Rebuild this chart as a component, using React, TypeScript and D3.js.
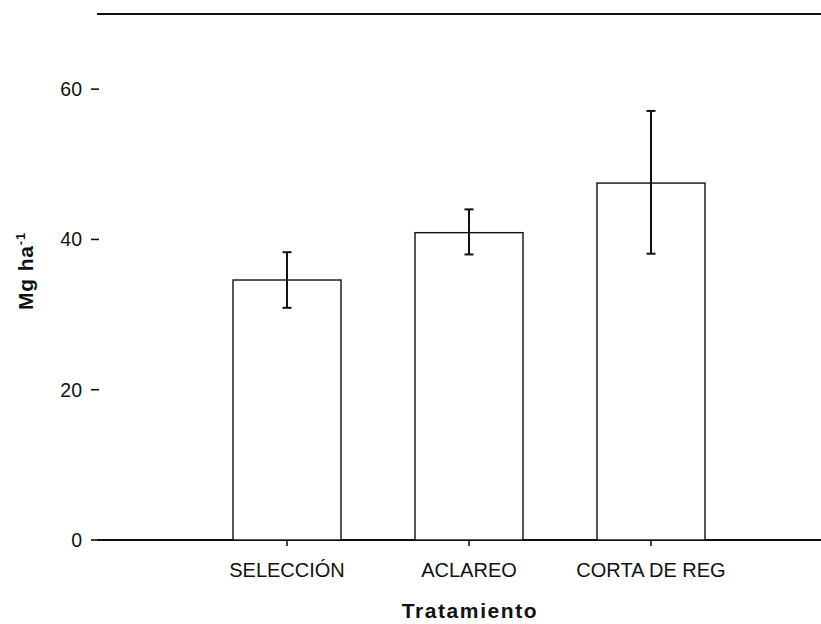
import React from "react";
import * as d3 from "d3";

const categories = ["SELECCIÓN", "ACLAREO", "CORTA DE REG"];
const means = [34.6, 40.9, 47.5];
const errLow = [30.9, 38.0, 38.1];
const errHigh = [38.3, 44.0, 57.1];
const yTicks = [0, 20, 40, 60];

export default function App() {
  const W = 821, H = 624;
  const y = d3.scaleLinear().domain([0, 70]).range([540, 14]);
  const x = d3.scalePoint<string>().domain(categories).range([287, 651]);
  const bw = 108;
  const font = "Arial, 'Liberation Sans', sans-serif";
  return (
    <svg width={W} height={H} style={{ position: "absolute", left: 0, top: 0, background: "#fff" }}>
      <line x1={97} x2={821} y1={y(70)} y2={y(70)} stroke="#111" strokeWidth={1.8} />
      <line x1={97} x2={821} y1={y(0)} y2={y(0)} stroke="#111" strokeWidth={2} />
      {yTicks.map((t) => (
        <g key={t}>
          <line x1={91} x2={99} y1={y(t)} y2={y(t)} stroke="#111" strokeWidth={1.6} />
          <text x={82} y={y(t)} dy="0.36em" textAnchor="end" fontSize={19.5} fontFamily={font} fill="#111">{t}</text>
        </g>
      ))}
      {categories.map((c, i) => {
        const cx = x(c)!;
        return (
          <g key={c}>
            <rect x={cx - bw / 2} y={y(means[i])} width={bw} height={y(0) - y(means[i])} fill="#fff" stroke="#111" strokeWidth={1.4} />
            <line x1={cx} x2={cx} y1={y(errHigh[i])} y2={y(errLow[i])} stroke="#111" strokeWidth={2} />
            <line x1={cx - 4.5} x2={cx + 4.5} y1={y(errHigh[i])} y2={y(errHigh[i])} stroke="#111" strokeWidth={2} />
            <line x1={cx - 4.5} x2={cx + 4.5} y1={y(errLow[i])} y2={y(errLow[i])} stroke="#111" strokeWidth={2} />
            <line x1={cx} x2={cx} y1={y(0)} y2={y(0) + 6} stroke="#111" strokeWidth={1.5} />
            <text x={cx} y={577} textAnchor="middle" fontSize={20} fontFamily={font} fill="#111">{c}</text>
          </g>
        );
      })}
      <text x={470} y={618} textAnchor="middle" fontSize={21} fontWeight="bold" letterSpacing={1.6} fontFamily={font} fill="#111">Tratamiento</text>
      <text transform="translate(33,271) rotate(-90)" textAnchor="middle" fontSize={21} fontWeight="bold" letterSpacing={0.8} fontFamily={font} fill="#111">
        Mg ha<tspan dy={-8} fontSize={13}>-1</tspan>
      </text>
    </svg>
  );
}
